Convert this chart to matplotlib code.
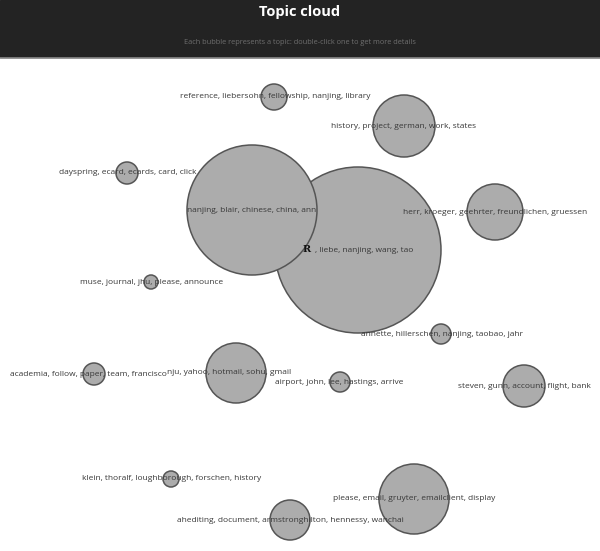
import matplotlib.pyplot as plt
from matplotlib.patches import Circle, Rectangle

# topic bubbles (pixel coordinates)
labels = [
    'reference, liebersohn, fellowship, nanjing, library',
    'history, project, german, work, states',
    'dayspring, ecard, ecards, card, click',
    ', liebe, nanjing, wang, tao',
    'nanjing, blair, chinese, china, ann',
    'herr, kroeger, geehrter, freundlichen, gruessen',
    'muse, journal, jhu, please, announce',
    'annette, hillerschen, nanjing, taobao, jahr',
    'academia, follow, paper, team, francisco',
    'nju, yahoo, hotmail, sohu, gmail',
    'airport, john, lee, hastings, arrive',
    'steven, gunn, account, flight, bank',
    'klein, thoralf, loughborough, forschen, history',
    'please, email, gruyter, emailclient, display',
    'ahediting, document, armstronghilton, hennessy, wanchai',
]
cx = [274, 404, 127, 358, 252, 495, 151, 441, 94, 236, 340, 524, 171, 414, 290]
cy = [97, 126, 173, 250, 210, 212, 282, 334, 374, 373, 382, 386, 479, 499, 520]
radius = [13, 31, 11, 83, 65, 28, 7, 10, 11, 30, 10, 21, 8, 35, 20]
label_x = [275, 404, 128, 364, 252, 495, 152, 442, 88, 229, 339, 524, 172, 414, 290]

W, H = 600, 551
fig = plt.figure(figsize=(W / 100, H / 100), dpi=100)
ax = fig.add_axes([0, 0, 1, 1])
ax.set_xlim(0, W)
ax.set_ylim(H, 0)
ax.axis('off')

font = ['Open Sans', 'DejaVu Sans']

# header band
ax.add_patch(Rectangle((0, 0), W, 57, color='#232323', zorder=0))
ax.plot([0, W], [57.5, 57.5], color='#8a8a8a', lw=1.2, zorder=1)
ax.text(W / 2, 12, 'Topic cloud', ha='center', va='center', color='white',
        fontsize=10.5, fontweight='bold', family=font)
ax.text(W / 2, 43, 'Each bubble represents a topic: double-click one to get more details',
        ha='center', va='center', color='#6e6e6e', fontsize=5.3, family=font)

for i in range(len(labels)):
    ax.add_patch(Circle((cx[i], cy[i]), radius[i], facecolor='#acacac',
                        edgecolor='#555555', lw=1.1, zorder=2 + i * 0.01))
for i in range(len(labels)):
    ax.text(label_x[i], cy[i], labels[i], ha='center', va='center',
            color='#383838', fontsize=6.0, family=font, zorder=5)

# the unreadable glyph in front of the big bubble's label
ax.text(303, 250, 'R', ha='left', va='center', color='#111111',
        fontsize=7, fontweight='bold', family='DejaVu Serif', zorder=6)

fig.savefig('out.png', dpi=100, facecolor='white')
